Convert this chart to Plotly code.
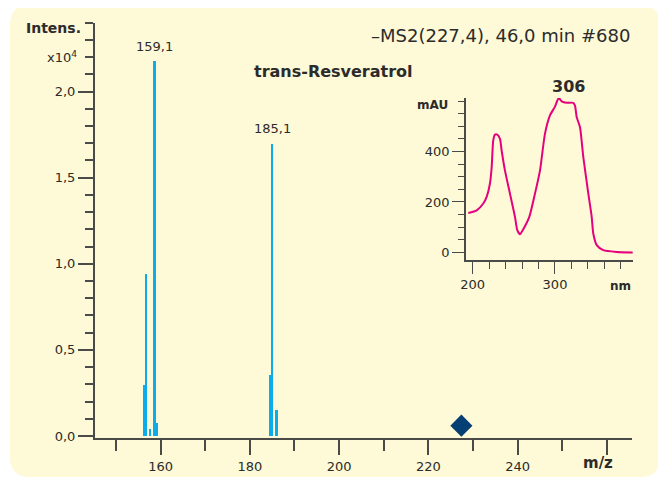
import plotly.graph_objects as go

# ---- data ----
ms_mz = [156.21, 156.68, 157.56, 158.61, 159.10, 184.57, 185.02, 185.96]
ms_int = [0.30, 0.945, 0.04, 2.18, 0.08, 0.355, 1.70, 0.155]
precursor_mz = [227.4]
precursor_int = [0.06]
peak_labels = ["159,1", "185,1"]
peak_label_mz = [158.61, 185.02]
peak_label_int = [2.18, 1.70]

uv_nm = [194.7, 204.9, 212.9, 217.0, 221.0, 223.1, 225.0, 227.1, 229.9, 233.2, 235.2, 239.2,
         245.3, 251.4, 254.2, 257.5, 260.8, 268.8, 275.7, 281.8, 287.8, 293.9, 300.0, 304.5,
         308.1, 314.2, 322.2, 324.3, 326.4, 330.4, 334.4, 340.5, 344.6, 346.5, 350.7, 358.7,
         375.0, 395.0]
uv_mau = [156, 167, 194, 220, 273, 338, 444, 467, 467, 450, 404, 325,
          233, 141, 88, 72, 88, 141, 233, 325, 470, 543, 578, 612,
          599, 593, 593, 582, 536, 496, 378, 233, 141, 75, 29, 9,
          2, 0]

y_tickvals = [0, 0.5, 1.0, 1.5, 2.0]
y_ticktext = ["0,0", "0,5", "1,0", "1,5", "2,0"]
x_tickvals = [160, 180, 200, 220, 240, 260]
x_ticktext = ["160", "180", "200", "220", "240", ""]
x_minorvals = [150, 170, 190, 210, 230, 250]
uv_xticks = [200, 300]
uv_yticks = [0, 200, 400]

# page body has an 8px margin: figure is drawn at (8, 8)
OFF = 8
W, H = 666 - OFF, 479 - OFF
def X(px): return (px - OFF) / W
def Y(py): return 1 - (py - OFF) / H

FONT = "DejaVu Sans, Liberation Sans, Arial, sans-serif"
TXT = "#2b2b2b"
AX = "#4a4a48"
BLUE = "#0AACEB"
MAG = "#E5007D"
NAVY = "#063F73"

fig = go.Figure()

fig.add_trace(go.Bar(x=ms_mz, y=ms_int, width=0.5, marker=dict(color=BLUE, line=dict(width=0)),
                     xaxis="x", yaxis="y", showlegend=False))
fig.add_trace(go.Scatter(x=[precursor_mz[0], precursor_mz[0]], y=[0, precursor_int[0]], mode="lines",
                         line=dict(color=AX, width=1.5), xaxis="x", yaxis="y", showlegend=False))
fig.add_trace(go.Scatter(x=precursor_mz, y=precursor_int, mode="markers",
                         marker=dict(symbol="diamond", size=17, color=NAVY, line=dict(width=0)),
                         xaxis="x", yaxis="y", showlegend=False, cliponaxis=False))

fig.add_trace(go.Scatter(x=uv_nm, y=uv_mau, mode="lines", line=dict(color=MAG, width=2, shape="spline", smoothing=0.6),
                         xaxis="x2", yaxis="y2", showlegend=False))

# rounded background
x0, x1, y0, y1, r = 10, 660, 5, 477, 20
path = (f"M {X(x0+r)},{Y(y0)} L {X(x1-r)},{Y(y0)} Q {X(x1)},{Y(y0)} {X(x1)},{Y(y0+r)} "
        f"L {X(x1)},{Y(y1-r)} Q {X(x1)},{Y(y1)} {X(x1-r)},{Y(y1)} "
        f"L {X(x0+r)},{Y(y1)} Q {X(x0)},{Y(y1)} {X(x0)},{Y(y1-r)} "
        f"L {X(x0)},{Y(y0+r)} Q {X(x0)},{Y(y0)} {X(x0+r)},{Y(y0)} Z")

fig.update_layout(
    width=W, height=H,
    margin=dict(l=0, r=0, t=0, b=0),
    paper_bgcolor="white",
    plot_bgcolor="rgba(0,0,0,0)",
    font=dict(family=FONT, size=13, color=TXT),
    bargap=0,
    shapes=[dict(type="path", path=path, xref="paper", yref="paper",
                 fillcolor="#FEF9D6", line=dict(width=0), layer="below")],
    xaxis=dict(domain=[X(95), X(632.3)], range=[145.3, 265.7], anchor="y", automargin=False,
               showline=True, linecolor=AX, linewidth=2, showgrid=False, zeroline=False,
               tickmode="array", tickvals=x_tickvals, ticktext=x_ticktext,
               ticks="outside", ticklen=15, tickwidth=1.5, tickcolor=AX,
               minor=dict(tickmode="array", tickvals=x_minorvals, ticks="outside", ticklen=11,
                          tickwidth=1.5, tickcolor=AX),
               tickfont=dict(size=13, color=TXT)),
    yaxis=dict(domain=[Y(438), Y(22.7)], range=[-0.0116, 2.4], anchor="x", automargin=False,
               showline=True, linecolor=AX, linewidth=2, showgrid=False, zeroline=False,
               tickmode="array", tickvals=y_tickvals, ticktext=y_ticktext,
               ticks="outside", ticklen=15, tickwidth=1.5, tickcolor=AX,
               minor=dict(dtick=0.1, tick0=0, ticks="outside", ticklen=8, tickwidth=1.5, tickcolor=AX),
               tickfont=dict(size=13, color=TXT)),
    xaxis2=dict(domain=[X(466), X(632.7)], range=[191.9, 394.4], anchor="y2", automargin=False,
                showline=True, linecolor=AX, linewidth=1.5, showgrid=False, zeroline=False,
                tickmode="array", tickvals=uv_xticks, ticktext=[str(v) for v in uv_xticks],
                ticks="outside", ticklen=12, tickwidth=1.3, tickcolor=AX,
                minor=dict(dtick=20, tick0=200, ticks="outside", ticklen=7, tickwidth=1.3, tickcolor=AX),
                tickfont=dict(size=13, color=TXT)),
    yaxis2=dict(domain=[Y(260), Y(98)], range=[-30, 612], anchor="x2", automargin=False,
                showline=True, linecolor=AX, linewidth=1.5, showgrid=False, zeroline=False,
                tickmode="array", tickvals=uv_yticks, ticktext=[str(v) for v in uv_yticks],
                ticks="outside", ticklen=12, tickwidth=1.3, tickcolor=AX,
                minor=dict(dtick=50, tick0=0, ticks="outside", ticklen=6, tickwidth=1.3, tickcolor=AX),
                tickfont=dict(size=13, color=TXT)),
)

ann = []
for t, mx, my in zip(peak_labels, peak_label_mz, peak_label_int):
    ann.append(dict(x=mx, y=my, xref="x", yref="y", text=t, showarrow=False, yanchor="bottom",
                    yshift=5, font=dict(size=13, color=TXT)))
ann += [
    dict(x=X(24), y=Y(28), xref="paper", yref="paper", text="<b>Intens.</b>", showarrow=False,
         xanchor="left", yanchor="middle", font=dict(size=14, color=TXT)),
    dict(x=X(79), y=Y(57), xref="paper", yref="paper", text="x10<sup>4</sup>", showarrow=False,
         xanchor="right", yanchor="middle", font=dict(size=13, color=TXT)),
    dict(x=X(632), y=Y(36), xref="paper", yref="paper", text="\u2013MS2(227,4), 46,0 min #680",
         showarrow=False, xanchor="right", yanchor="middle", font=dict(size=18, color=TXT)),
    dict(x=X(252), y=Y(72), xref="paper", yref="paper", text="<b>trans-Resveratrol</b>",
         showarrow=False, xanchor="left", yanchor="middle", font=dict(size=16, color=TXT)),
    dict(x=X(598), y=Y(463), xref="paper", yref="paper", text="<b>m/z</b>", showarrow=False,
         xanchor="center", yanchor="middle", font=dict(size=15, color=TXT)),
    dict(x=X(568), y=Y(87), xref="paper", yref="paper", text="<b>306</b>", showarrow=False,
         xanchor="center", yanchor="middle", font=dict(size=16, color=TXT)),
    dict(x=X(432), y=Y(105), xref="paper", yref="paper", text="<b>mAU</b>", showarrow=False,
         xanchor="center", yanchor="middle", font=dict(size=12, color=TXT)),
    dict(x=X(620), y=Y(286), xref="paper", yref="paper", text="<b>nm</b>", showarrow=False,
         xanchor="center", yanchor="middle", font=dict(size=12, color=TXT)),
]
fig.update_layout(annotations=ann)

fig.write_html("out.html")
